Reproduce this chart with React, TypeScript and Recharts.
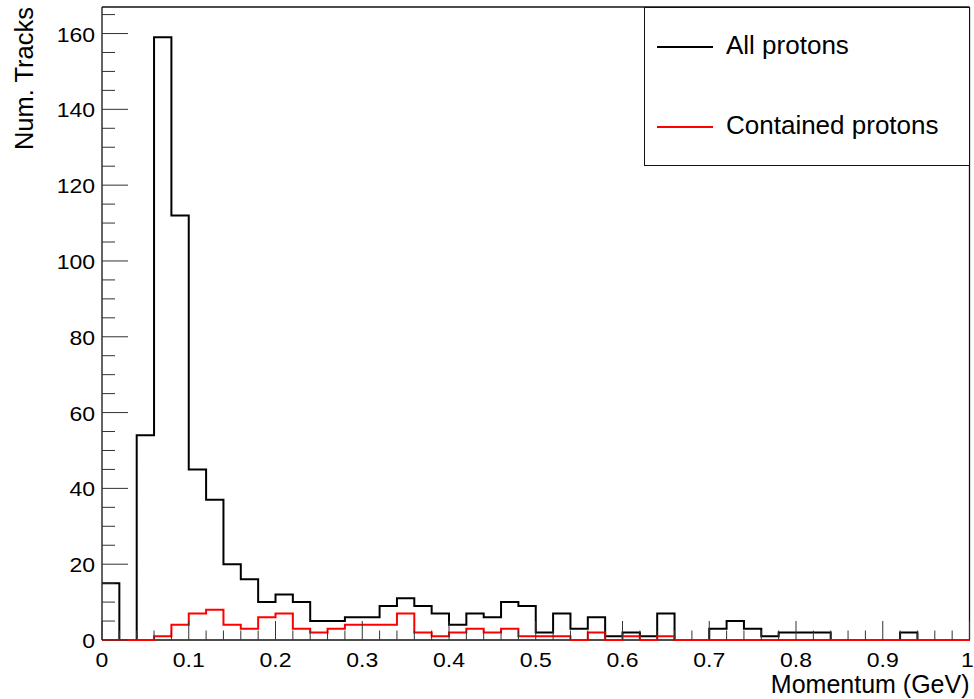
import React from 'react';
import { LineChart, Line, XAxis, YAxis, Legend, ReferenceLine } from 'recharts';

// Bin lower edges (GeV), bin width 0.02; final 1.0 closes the last bin
const binEdges = [
  0, 0.02, 0.04, 0.06, 0.08, 0.1, 0.12, 0.14, 0.16, 0.18,
  0.2, 0.22, 0.24, 0.26, 0.28, 0.3, 0.32, 0.34, 0.36, 0.38,
  0.4, 0.42, 0.44, 0.46, 0.48, 0.5, 0.52, 0.54, 0.56, 0.58,
  0.6, 0.62, 0.64, 0.66, 0.68, 0.7, 0.72, 0.74, 0.76, 0.78,
  0.8, 0.82, 0.84, 0.86, 0.88, 0.9, 0.92, 0.94, 0.96, 0.98, 1.0,
];

const allProtons = [
  15, 0, 54, 159, 112, 45, 37, 20, 16, 10,
  12, 10, 5, 5, 6, 6, 9, 11, 9, 7,
  4, 7, 6, 10, 9, 2, 7, 3, 6, 1,
  2, 1, 7, 0, 0, 3, 5, 3, 1, 2,
  2, 2, 0, 0, 0, 0, 2, 0, 0, 0,
];

const containedProtons = [
  0, 0, 0, 1, 4, 7, 8, 4, 3, 6,
  7, 3, 2, 3, 4, 4, 4, 7, 2, 1,
  2, 3, 2, 3, 1, 1, 1, 0, 2, 0,
  1, 0, 1, 0, 0, 0, 0, 0, 0, 0,
  0, 0, 0, 0, 0, 0, 0, 0, 0, 0,
];

const seriesNames = ['All protons', 'Contained protons'];

const xMajorTicks = [0, 0.1, 0.2, 0.3, 0.4, 0.5, 0.6, 0.7, 0.8, 0.9, 1];
const xTickLabels = ['0', '0.1', '0.2', '0.3', '0.4', '0.5', '0.6', '0.7', '0.8', '0.9', '1'];
const yMajorTicks = [0, 20, 40, 60, 80, 100, 120, 140, 160];
const yTickLabels = ['0', '20', '40', '60', '80', '100', '120', '140', '160'];
const yMax = 167;

// minor tick positions (axis decoration only)
const xAllTicks: number[] = [];
for (let i = 0; i <= 50; i++) xAllTicks.push(Math.round(i * 2) / 100);
const yAllTicks: number[] = [];
for (let v = 0; v <= 165; v += 5) yAllTicks.push(v);

const data = binEdges.map((x, i) => {
  const j = Math.min(i, allProtons.length - 1);
  return { x, all: allProtons[j], contained: containedProtons[j] };
});

const FONT = '"Liberation Sans", Arial, Helvetica, sans-serif';
const FRAME = '#111';

function XTick(props: any) {
  const { x, y, payload } = props;
  const v = payload.value as number;
  const mi = xMajorTicks.findIndex((m) => Math.abs(m - v) < 1e-6);
  const major = mi >= 0;
  const len = major ? 19 : 9.5;
  const last = mi === xMajorTicks.length - 1;
  return (
    <g>
      <line x1={x} y1={y} x2={x} y2={y - len} stroke="#333" strokeWidth={1} />
      {major && (
        <text
          transform={`translate(${last ? x + 4.3 : x},${y + 27}) scale(1.15,1)`}
          textAnchor={last ? 'end' : 'middle'}
          fontFamily={FONT}
          fontSize={20}
          fill="#000"
        >
          {xTickLabels[mi]}
        </text>
      )}
    </g>
  );
}

function YTick(props: any) {
  const { x, y, payload } = props;
  const v = payload.value as number;
  const mi = yMajorTicks.indexOf(v);
  const major = mi >= 0;
  const len = major ? 26 : 13;
  return (
    <g>
      <line x1={x} y1={y} x2={x + len} y2={y} stroke="#333" strokeWidth={1} />
      {major && (
        <text
          transform={`translate(${x - 7},${y + 8}) scale(1.15,1)`}
          textAnchor="end"
          fontFamily={FONT}
          fontSize={20}
          fill="#000"
        >
          {yTickLabels[mi]}
        </text>
      )}
    </g>
  );
}

function YTitle(props: any) {
  const vb = props.viewBox || { x: 0, y: 7 };
  const x = vb.x + 33;
  const y = vb.y;
  return (
    <text
      x={x}
      y={y}
      transform={`rotate(-90, ${x}, ${y})`}
      textAnchor="end"
      fontFamily={FONT}
      fontSize={25.5}
      fill="#000"
    >
      Num. Tracks
    </text>
  );
}

function XTitle(props: any) {
  const vb = props.viewBox || { x: 102, y: 640, width: 867 };
  return (
    <text
      x={vb.x + vb.width}
      y={vb.y + 53}
      textAnchor="end"
      fontFamily={FONT}
      fontSize={25}
      fill="#000"
    >
      Momentum (GeV)
    </text>
  );
}

function LegendBox(props: any) {
  const payload = (props.payload || []) as any[];
  const rows = payload.length
    ? payload.map((p) => ({ name: p.value, color: p.color }))
    : [
        { name: seriesNames[0], color: '#000' },
        { name: seriesNames[1], color: '#ff0000' },
      ];
  return (
    <div
      style={{
        position: 'relative',
        boxSizing: 'border-box',
        width: 326,
        height: 159,
        border: `1px solid ${FRAME}`,
        background: '#fff',
        fontFamily: FONT,
      }}
    >
      {rows.map((r, i) => (
        <React.Fragment key={r.name}>
          <div
            style={{
              position: 'absolute',
              left: 12,
              top: 38 + i * 80,
              width: 56,
              height: 2,
              background: r.color,
            }}
          />
          <div
            style={{
              position: 'absolute',
              left: 81,
              top: 22 + i * 80,
              fontSize: 26,
              lineHeight: '30px',
              whiteSpace: 'nowrap',
              color: '#000',
            }}
          >
            {r.name}
          </div>
        </React.Fragment>
      ))}
    </div>
  );
}

export default function App() {
  return (
    <div style={{ position: 'fixed', left: 0, top: 0, width: 974, height: 699, background: '#fff' }}>
      <LineChart
        width={974}
        height={699}
        data={data}
        margin={{ top: 7, right: 4.5, bottom: 0, left: 0 }}
      >
        <XAxis
          xAxisId="main"
          dataKey="x"
          type="number"
          domain={[0, 1]}
          ticks={xAllTicks}
          interval={0}
          tick={<XTick />}
          tickLine={false}
          axisLine={false}
          tickSize={0}
          tickMargin={0}
          height={59}
          label={<XTitle />}
        />
        <YAxis
          yAxisId="main"
          type="number"
          domain={[0, yMax]}
          ticks={yAllTicks}
          interval={0}
          tick={<YTick />}
          tickLine={false}
          axisLine={{ stroke: FRAME, strokeWidth: 1.3 }}
          tickSize={0}
          tickMargin={0}
          width={102}
          label={<YTitle />}
        />
        <ReferenceLine xAxisId="main" yAxisId="main" y={0} stroke={FRAME} strokeWidth={1.3} />
        <ReferenceLine xAxisId="main" yAxisId="main" y={yMax} stroke={FRAME} strokeWidth={1.3} />
        <ReferenceLine xAxisId="main" yAxisId="main" x={1} stroke={FRAME} strokeWidth={1.3} />
        <Line
          xAxisId="main"
          yAxisId="main"
          type="stepAfter"
          dataKey="all"
          name={seriesNames[0]}
          stroke="#000000"
          strokeWidth={2}
          dot={false}
          activeDot={false}
          isAnimationActive={false}
        />
        <Line
          xAxisId="main"
          yAxisId="main"
          type="stepAfter"
          dataKey="contained"
          name={seriesNames[1]}
          stroke="#ff0000"
          strokeWidth={2}
          dot={false}
          activeDot={false}
          isAnimationActive={false}
        />
        <Legend
          layout="vertical"
          align="center"
          verticalAlign="middle"
          content={<LegendBox />}
          wrapperStyle={{ left: 644, top: 7, width: 326, height: 159 }}
        />
      </LineChart>
    </div>
  );
}
